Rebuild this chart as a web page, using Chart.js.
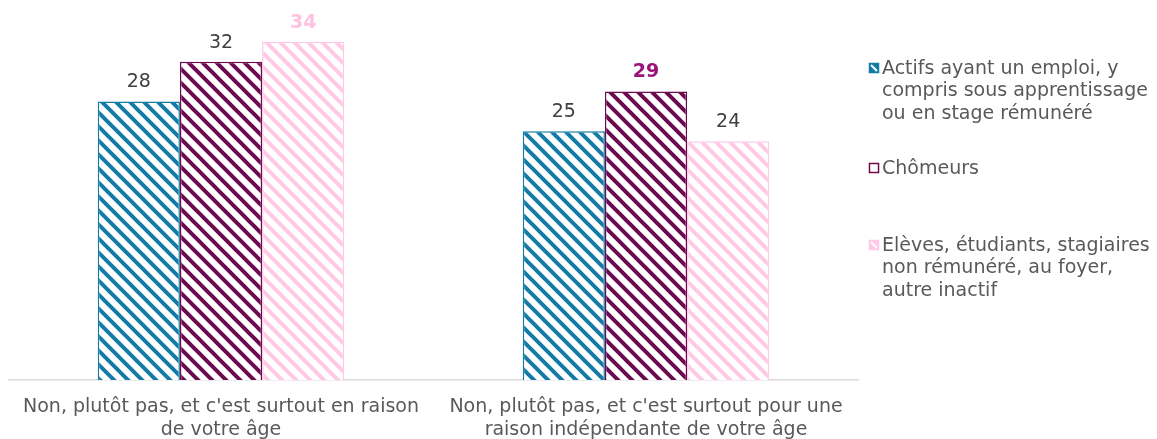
<!DOCTYPE html>
<html>
<head>
<meta charset="utf-8">
<script src="https://cdn.jsdelivr.net/npm/chart.js@4/dist/chart.umd.min.js"></script>
<style>
  html, body { margin: 0; padding: 0; background: #ffffff; }
  #wrap { position: relative; width: 1157px; height: 439px; }
</style>
</head>
<body>
<div id="wrap"><canvas id="c" width="1157" height="439"></canvas></div>
<script>
// ---- data ----
const categories = [
  ["Non, plutôt pas, et c'est surtout en raison", "de votre âge"],
  ["Non, plutôt pas, et c'est surtout pour une", "raison indépendante de votre âge"]
];
const seriesNames = [
  ["Actifs ayant un emploi, y", "compris sous apprentissage", "ou en stage rémunéré"],
  ["Chômeurs"],
  ["Elèves, étudiants, stagiaires", "non rémunéré, au foyer,", "autre inactif"]
];
const actifs = [28, 25];
const chomeurs = [32, 29];
const eleves = [34, 24];

// ---- style ----
const colors = ['#137ba5', '#6c0a50', '#ffc8e4'];
const labelColors = [['#404040', '#404040'], ['#404040', '#9a1479'], ['#ffc3e1', '#404040']];
const labelBold = [[false, false], [false, true], [true, false]];
const legendY = [69, 169, 246];

function stripe(color) {
  const s = 14;
  const c = document.createElement('canvas');
  c.width = s; c.height = s;
  const g = c.getContext('2d');
  g.fillStyle = '#ffffff';
  g.fillRect(0, 0, s, s);
  g.strokeStyle = color;
  g.lineWidth = 4;
  g.lineCap = 'square';
  for (const off of [-s, 0, s]) {
    g.beginPath();
    g.moveTo(off - 2, -2);
    g.lineTo(off + s + 2, s + 2);
    g.stroke();
  }
  return g.createPattern(c, 'repeat');
}

const ctx = document.getElementById('c').getContext('2d');

const valueLabels = {
  id: 'valueLabels',
  afterDatasetsDraw(chart) {
    const c = chart.ctx;
    chart.data.datasets.forEach((ds, di) => {
      const meta = chart.getDatasetMeta(di);
      meta.data.forEach((bar, i) => {
        c.save();
        c.font = (labelBold[di][i] ? 'bold ' : '') + '19px "DejaVu Sans"';
        c.fillStyle = labelColors[di][i];
        c.textAlign = 'center';
        c.textBaseline = 'middle';
        c.fillText(String(ds.data[i]), bar.x, bar.y - 19);
        c.restore();
      });
    });
  }
};

const sideLegend = {
  id: 'sideLegend',
  afterDraw(chart) {
    const c = chart.ctx;
    chart.data.datasets.forEach((ds, di) => {
      const y0 = legendY[di];
      c.save();
      // marker
      c.fillStyle = (di === 1) ? '#ffffff' : colors[di];
      c.fillRect(869, y0 - 6, 10, 10);
      c.strokeStyle = colors[di];
      c.lineWidth = 1.5;
      c.strokeRect(869.5, y0 - 5.5, 9, 9);
      c.strokeStyle = '#ffffff';
      c.lineWidth = 2;
      c.beginPath();
      c.moveTo(871, y0 - 4); c.lineTo(877, y0 + 2);
      c.stroke();
      // text
      c.font = '19px "DejaVu Sans"';
      c.fillStyle = '#595959';
      c.textAlign = 'left';
      c.textBaseline = 'middle';
      ds.label.forEach((line, li) => c.fillText(line, 882, y0 + li * 22.5));
      c.restore();
    });
  }
};

new Chart(ctx, {
  type: 'bar',
  data: {
    labels: categories,
    datasets: [
      { label: seriesNames[0], data: actifs, backgroundColor: stripe(colors[0]), borderColor: colors[0], borderWidth: 1.5 },
      { label: seriesNames[1], data: chomeurs, backgroundColor: stripe(colors[1]), borderColor: colors[1], borderWidth: 1.5 },
      { label: seriesNames[2], data: eleves, backgroundColor: stripe(colors[2]), borderColor: colors[2], borderWidth: 1.5 }
    ]
  },
  options: {
    responsive: false,
    animation: false,
    events: [],
    layout: { padding: { left: 8.5, right: 298.5, top: 2, bottom: 0 } },
    datasets: { bar: { categoryPercentage: 0.58, barPercentage: 1.0 } },
    plugins: { legend: { display: false }, tooltip: { enabled: false } },
    scales: {
      x: {
        grid: { display: false, drawTicks: false },
        border: { display: true, color: '#d9d9d9', width: 1.5 },
        ticks: {
          color: '#595959',
          font: { family: '"DejaVu Sans", sans-serif', size: 19, lineHeight: 1.2 },
          padding: 16,
          maxRotation: 0,
          autoSkip: false
        },
        afterFit(s) { s.height = 59; }
      },
      y: {
        display: false,
        min: 0,
        max: 38
      }
    }
  },
  plugins: [valueLabels, sideLegend]
});
</script>
</body>
</html>
